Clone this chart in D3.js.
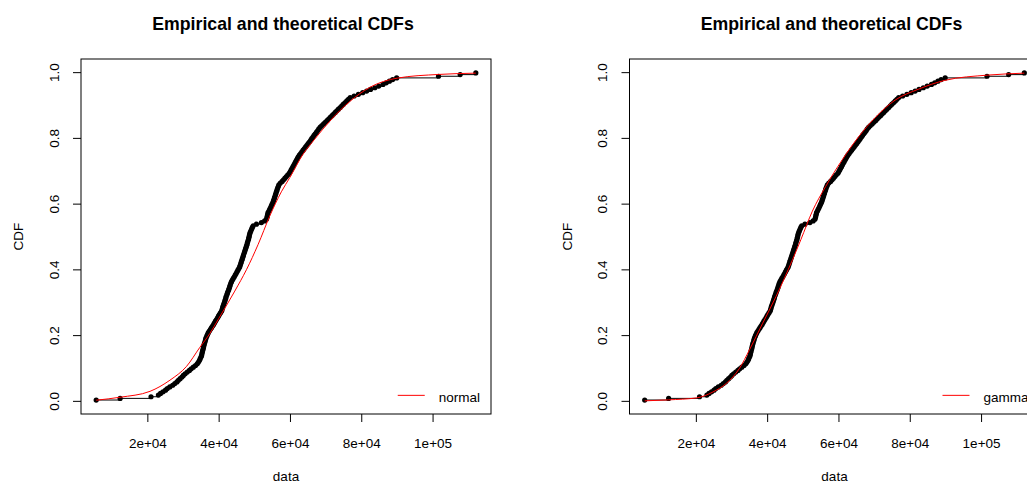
<!DOCTYPE html>
<html>
<head>
<meta charset="utf-8">
<script src="https://cdn.jsdelivr.net/npm/d3@7"></script>
<style>
    body { margin: 0; background: #fff; overflow: hidden; }
    svg { display: block; font-family: "Liberation Sans", Arial, Helvetica, sans-serif; }
</style>
</head>
<body>
<div id="chart"></div>
<script>
    // sorted sample values (same data in both panels)
    const sampleValues = [
        5650, 12360, 21030, 23100, 23700, 24400, 25100, 25600, 26300, 27100,
        27700, 28300, 28700, 29200, 29700, 30100, 30600, 31200, 31800, 32300,
        32900, 33500, 34000, 34300, 34600, 34800, 35000, 35200, 35300, 35400,
        35500, 35650, 35750, 35850, 35950, 36100, 36250, 36350, 36500, 36700,
        36900, 37100, 37400, 37700, 38000, 38300, 38600, 38850, 39100, 39400,
        39700, 39950, 40200, 40500, 40800, 40950, 41100, 41200, 41400, 41550,
        41700, 41850, 42000, 42100, 42300, 42450, 42600, 42800, 42950, 43100,
        43250, 43400, 43600, 43850, 44100, 44400, 44650, 44900, 45150, 45400,
        45650, 45900, 46050, 46200, 46350, 46500, 46650, 46800, 46950, 47100,
        47250, 47400, 47550, 47700, 47850, 48000, 48100, 48250, 48400, 48500,
        48600, 48700, 48850, 49050, 49250, 49450, 49700, 50600, 52000, 52900,
        53400, 53550, 53650, 53750, 53850, 54100, 54300, 54550, 54750, 54950,
        55200, 55350, 55500, 55650, 55800, 55950, 56100, 56250, 56400, 56550,
        56750, 56900, 57300, 57800, 58200, 58600, 59000, 59400, 59850, 60100,
        60350, 60600, 60850, 61100, 61350, 61600, 61850, 62100, 62350, 62650,
        63000, 63350, 63700, 64050, 64400, 64750, 65100, 65450, 65800, 66100,
        66450, 66750, 67100, 67450, 67800, 68100, 68500, 68950, 69450, 69900,
        70400, 70850, 71300, 71800, 72250, 72700, 73150, 73600, 74100, 74550,
        75000, 75500, 75950, 76400, 76900, 78000, 79200, 80400, 81500, 82600,
        83800, 84900, 86100, 87000, 87900, 88800, 89930, 101670, 107740, 112130
    ];

    // fitted normal cdf
    const normalX   = [5650, 12360, 20750, 26350, 31000, 34740, 37540, 40000, 44530, 47800, 51040,
                       54320, 57590, 60000, 63640, 67000, 71100, 76700, 82290, 90200, 101670, 112130];
    const normalCdf = [0.002, 0.011, 0.029, 0.063, 0.105, 0.163, 0.205, 0.25, 0.334, 0.399, 0.475,
                       0.562, 0.636, 0.68, 0.75, 0.797, 0.85, 0.91, 0.953, 0.982, 0.993, 0.997];

    // fitted gamma cdf
    const gammaX   = [5650, 12360, 20180, 24800, 28540, 32250, 35030, 38740, 42470, 47100, 49440,
                      52680, 56400, 61040, 65690, 70330, 75900, 82400, 89850, 101920, 112130];
    const gammaCdf = [0.000, 0.003, 0.009, 0.027, 0.053, 0.099, 0.155, 0.236, 0.317, 0.429, 0.49,
                      0.577, 0.652, 0.733, 0.804, 0.862, 0.915, 0.948, 0.975, 0.991, 0.997];

    const xTicks = [20000, 40000, 60000, 80000, 100000];
    const xTickLabels = ["2e+04", "4e+04", "6e+04", "8e+04", "1e+05"];
    const yTicks = [0, 0.2, 0.4, 0.6, 0.8, 1.0];
    const yTickLabels = ["0.0", "0.2", "0.4", "0.6", "0.8", "1.0"];

    const panels = [
        { left: 81, right: 491, name: "normal", cx: normalX, cy: normalCdf },
        { left: 629.5, right: 1039.5, name: "gamma", cx: gammaX, cy: gammaCdf }
    ];
    const plotTop = 59, plotBottom = 414;
    const fs = "13.5px";

    const svg = d3.select("#chart")
        .append("svg")
        .attr("width", 1027)
        .attr("height", 485);

    const n = sampleValues.length;
    const ecdf = sampleValues.map((v, i) => ({ x: v, p: (i + 0.5) / n }));
    const lo = d3.min(sampleValues), hi = d3.max(sampleValues);
    const pad = (hi - lo) * 0.04;

    panels.forEach(pn => {
        const x = d3.scaleLinear().domain([lo - pad, hi + pad]).range([pn.left, pn.right]);
        const y = d3.scaleLinear().domain([-0.04, 1.04]).range([plotBottom, plotTop]);
        const g = svg.append("g");

        // title
        g.append("text")
            .attr("x", (pn.left + pn.right) / 2 - 3)
            .attr("y", 30)
            .attr("text-anchor", "middle")
            .style("font-weight", "bold")
            .style("font-size", "17.7px")
            .text("Empirical and theoretical CDFs");

        // horizontal steps
        g.selectAll(".step")
            .data(ecdf.slice(0, n - 1))
            .enter().append("line")
            .attr("x1", d => x(d.x))
            .attr("x2", (d, i) => x(ecdf[i + 1].x))
            .attr("y1", d => y(d.p))
            .attr("y2", d => y(d.p))
            .attr("stroke", "#000")
            .attr("stroke-width", 1);

        g.selectAll(".pt")
            .data(ecdf)
            .enter().append("circle")
            .attr("cx", d => x(d.x))
            .attr("cy", d => y(d.p))
            .attr("r", 2.6)
            .attr("fill", "#000");

        // theoretical curve
        const pts = pn.cx.map((v, i) => [v, pn.cy[i]]);
        g.append("path")
            .datum(pts)
            .attr("fill", "none")
            .attr("stroke", "#ff0000")
            .attr("stroke-width", 1)
            .attr("d", d3.line().x(d => x(d[0])).y(d => y(d[1])).curve(d3.curveMonotoneX));

        // box
        g.append("rect")
            .attr("x", pn.left).attr("y", plotTop)
            .attr("width", pn.right - pn.left).attr("height", plotBottom - plotTop)
            .attr("fill", "none").attr("stroke", "#000").attr("stroke-width", 1);

        const xa = g.append("g")
            .attr("transform", `translate(0,${plotBottom})`)
            .call(d3.axisBottom(x).tickValues(xTicks).tickFormat((d, i) => xTickLabels[i]).tickSize(8).tickSizeOuter(0));
        xa.select(".domain").remove();
        xa.selectAll("text").attr("y", 34).attr("dy", null).style("font-size", fs).attr("fill", "#000");

        const ya = g.append("g")
            .attr("transform", `translate(${pn.left},0)`)
            .call(d3.axisLeft(y).tickValues(yTicks).tickFormat((d, i) => yTickLabels[i]).tickSize(8).tickSizeOuter(0));
        ya.select(".domain").remove();
        ya.selectAll("text")
            .attr("x", null).attr("dy", "0.35em")
            .attr("text-anchor", "middle")
            .attr("transform", "translate(-27,0) rotate(-90)")
            .style("font-size", fs).attr("fill", "#000");

        g.append("text")
            .attr("x", (pn.left + pn.right) / 2)
            .attr("y", 481)
            .attr("text-anchor", "middle")
            .style("font-size", fs)
            .text("data");

        g.append("text")
            .attr("transform", `translate(${pn.left - 58},${(plotTop + plotBottom) / 2}) rotate(-90)`)
            .attr("text-anchor", "middle")
            .style("font-size", fs)
            .text("CDF");

        // legend, bottom right
        const lt = g.append("text")
            .attr("y", y(0) - 4)
            .attr("dy", "0.35em")
            .style("font-size", fs)
            .text(pn.name);
        const tw = lt.node().getComputedTextLength();
        const tx = pn.right - 11 - tw;
        lt.attr("x", tx);
        g.append("line")
            .attr("x1", tx - 41).attr("x2", tx - 14)
            .attr("y1", y(0) - 5.5).attr("y2", y(0) - 5.5)
            .attr("stroke", "#ff0000").attr("stroke-width", 1);
    });
</script>
</body>
</html>
